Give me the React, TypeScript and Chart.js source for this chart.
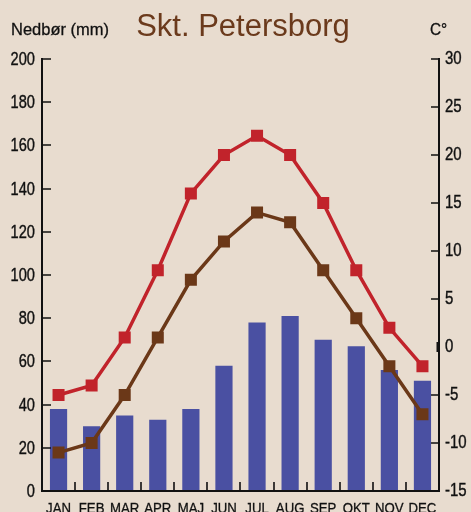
import React, { useEffect, useRef } from "react";
import { Chart, registerables } from "chart.js";

Chart.register(...registerables);

const months = ["JAN", "FEB", "MAR", "APR", "MAJ", "JUN", "JUL", "AUG", "SEP", "OKT", "NOV", "DEC"];
const precipitation = [38, 30, 35, 33, 38, 58, 78, 81, 70, 67, 56, 51];
const tempMax = [-5, -4, 1, 8, 16, 20, 22, 20, 15, 8, 2, -2];
const tempMin = [-11, -10, -5, 1, 7, 11, 14, 13, 8, 3, -2, -7];
const leftTicks = [0, 20, 40, 60, 80, 100, 120, 140, 160, 180, 200];
const rightTicks = [-15, -10, -5, 0, 5, 10, 15, 20, 25, 30];

const SANS = '"Liberation Sans", Arial, sans-serif';
const BG = "#e8dccf";
const BAR = "#4a50a2";
const RED = "#c1232b";
const BROWN = "#6b3818";
const INK = "#111111";

function drawText(ctx: CanvasRenderingContext2D, text: string, x: number, y: number, align: CanvasTextAlign, baseline: CanvasTextBaseline, sx: number, stroke = 0) {
  ctx.save();
  ctx.translate(x, y);
  ctx.scale(sx, 1);
  ctx.textAlign = align;
  ctx.textBaseline = baseline;
  ctx.fillText(text, 0, 0);
  if (stroke > 0) {
    ctx.lineWidth = stroke;
    ctx.strokeStyle = ctx.fillStyle as string;
    ctx.strokeText(text, 0, 0);
  }
  ctx.restore();
}

const framePlugin = {
  id: "frame",
  beforeDraw(chart: any) {
    const ctx = chart.ctx;
    ctx.save();
    ctx.fillStyle = BG;
    ctx.fillRect(0, 0, chart.width, chart.height);
    ctx.restore();
  },
  afterDatasetsDraw(chart: any) {
    const ctx: CanvasRenderingContext2D = chart.ctx;
    const { left, right, top, bottom } = chart.chartArea;
    const x = chart.scales.x;
    const yl = chart.scales.y;
    const yr = chart.scales.y2;
    ctx.save();
    ctx.strokeStyle = INK;
    ctx.lineWidth = 2;
    ctx.beginPath();
    ctx.moveTo(left, top - 1);
    ctx.lineTo(left, bottom);
    ctx.lineTo(right, bottom);
    ctx.lineTo(right, top - 1);
    ctx.stroke();
    ctx.lineWidth = 1.6;
    ctx.beginPath();
    leftTicks.forEach((v) => {
      const py = Math.round(yl.getPixelForValue(v));
      ctx.moveTo(left, py);
      ctx.lineTo(left + 9, py);
    });
    rightTicks.forEach((v) => {
      if (v === 0) return;
      const py = Math.round(yr.getPixelForValue(v));
      ctx.moveTo(right, py);
      ctx.lineTo(right - 8, py);
    });
    for (let i = 0; i < months.length - 1; i++) {
      const px = Math.round((x.getPixelForValue(i) + x.getPixelForValue(i + 1)) / 2);
      ctx.moveTo(px, bottom);
      ctx.lineTo(px, bottom - 9);
    }
    ctx.stroke();
    const p0 = yr.getPixelForValue(0);
    ctx.lineWidth = 3;
    ctx.beginPath();
    ctx.moveTo(right - 1, p0 - 5);
    ctx.lineTo(right - 1, p0 + 5);
    ctx.stroke();

    // tick labels
    ctx.fillStyle = INK;
    ctx.font = `18.5px ${SANS}`;
    leftTicks.forEach((v) => {
      drawText(ctx, String(v), left - 7, yl.getPixelForValue(v) + 1, "right", "middle", 0.79, 0.4);
    });
    rightTicks.forEach((v) => {
      drawText(ctx, String(v), right + 6, yr.getPixelForValue(v), "left", "middle", 0.81, 0.4);
    });
    ctx.font = `15px ${SANS}`;
    months.forEach((m, i) => {
      drawText(ctx, m, x.getPixelForValue(i), 513, "center", "alphabetic", 0.88, 0.3);
    });

    ctx.font = `17px ${SANS}`;
    drawText(ctx, "Nedbør (mm)", 11, 30, "left", "middle", 0.97, 0.3);
    drawText(ctx, "C°", 430, 30, "left", "middle", 0.9, 0.3);
    ctx.fillStyle = "#6b3a1c";
    ctx.font = `31px ${SANS}`;
    drawText(ctx, "Skt. Petersborg", 243, 27, "center", "middle", 1);
    ctx.restore();
  },
};

export default function App() {
  const ref = useRef<HTMLCanvasElement | null>(null);
  useEffect(() => {
    if (!ref.current) return;
    const chart = new Chart(ref.current, {
      type: "bar",
      data: {
        labels: months,
        datasets: [
          {
            type: "line",
            label: "Max",
            data: tempMax,
            yAxisID: "y2",
            borderColor: RED,
            backgroundColor: RED,
            borderWidth: 3.5,
            pointStyle: "rect",
            pointRadius: 8.5,
            pointBorderWidth: 0,
            pointBackgroundColor: RED,
            order: 1,
          } as any,
          {
            type: "line",
            label: "Min",
            data: tempMin,
            yAxisID: "y2",
            borderColor: BROWN,
            backgroundColor: BROWN,
            borderWidth: 3.5,
            pointStyle: "rect",
            pointRadius: 8.5,
            pointBorderWidth: 0,
            pointBackgroundColor: BROWN,
            order: 2,
          } as any,
          {
            type: "bar",
            label: "Nedbør",
            data: precipitation,
            yAxisID: "y",
            backgroundColor: BAR,
            categoryPercentage: 1,
            barPercentage: 0.52,
            order: 3,
          },
        ],
      },
      options: {
        responsive: false,
        animation: false,
        devicePixelRatio: 1,
        layout: { padding: { top: 59, left: 0, right: 0, bottom: 0 } },
        plugins: { legend: { display: false }, tooltip: { enabled: false }, title: { display: false } },
        scales: {
          x: {
            type: "category",
            offset: true,
            grid: { display: false, drawTicks: false },
            border: { display: false },
            ticks: { display: false },
            afterFit: (s: any) => { s.height = 21; },
          },
          y: {
            position: "left",
            min: 0,
            max: 200,
            grid: { display: false, drawTicks: false },
            border: { display: false },
            ticks: { display: false, stepSize: 20 },
            afterFit: (s: any) => { s.width = 42; },
          },
          y2: {
            position: "right",
            min: -15,
            max: 30,
            grid: { display: false, drawTicks: false },
            border: { display: false },
            ticks: { display: false, stepSize: 5 },
            afterFit: (s: any) => { s.width = 32; },
          },
        },
      },
      plugins: [framePlugin],
    });
    return () => chart.destroy();
  }, []);
  return (
    <div style={{ position: "absolute", left: 0, top: 0, width: 471, height: 512, overflow: "hidden" }}>
      <canvas ref={ref} width={471} height={512} style={{ display: "block", width: 471, height: 512 }} />
    </div>
  );
}
